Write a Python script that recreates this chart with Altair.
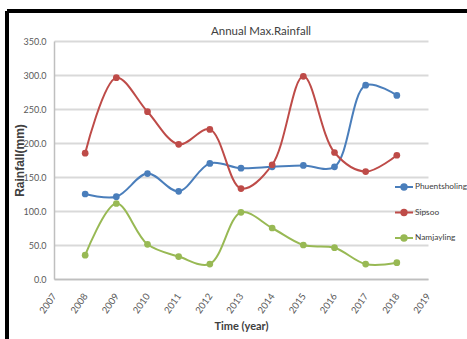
import altair as alt
import pandas as pd

# Annual maximum rainfall (mm) at three stations
years = list(range(2008, 2019))
phuentsholing = [125, 121, 155, 129, 170, 163, 165, 167, 165, 285, 270]
sipsoo = [185, 296, 246, 198, 220, 133, 168, 298, 186, 158, 182]
namjayling = [35, 111, 51, 33, 22, 98, 75, 50, 46, 22, 24]

series_names = ["Phuentsholing", "Sipsoo", "Namjayling"]
series_colors = ["#4A7EBB", "#BE4B48", "#98B954"]
year_ticks = list(range(2007, 2020))
rain_ticks = [0, 50, 100, 150, 200, 250, 300, 350]
chart_title = "Annual Max.Rainfall"

rows = []
for name, vals in zip(series_names, [phuentsholing, sipsoo, namjayling]):
    for yr, v in zip(years, vals):
        rows.append({"year": yr, "series": name, "rain": v})
df = pd.DataFrame(rows)

FONT = "Lato, sans-serif"
BOLD = "Liberation Sans, Arial, sans-serif"

# legend glyph: short line with a filled dot in the middle
legend_path = (
    "M-1,0H1"
    "M-0.3,0a0.3,0.3 0 1,0 0.6,0a0.3,0.3 0 1,0 -0.6,0"
    "M-0.17,0a0.17,0.17 0 1,0 0.34,0a0.17,0.17 0 1,0 -0.34,0"
    "M-0.06,0a0.06,0.06 0 1,0 0.12,0a0.06,0.06 0 1,0 -0.12,0"
)

x_enc = alt.X(
    "year:Q",
    scale=alt.Scale(domain=[2007, 2019], nice=False, zero=False),
    axis=alt.Axis(
        values=year_ticks, format="d", title="Time (year)", labelAngle=-55,
        labelAlign="right", labelBaseline="middle", labelPadding=15,
        labelOverlap=False, labelBound=False, labelFlush=False,
        grid=False, ticks=False, domainColor="#BFBFBF", domainWidth=1.5,
        labelFont=FONT, labelFontSize=9.5, labelColor="#595959",
        titleFont=FONT, titleFontSize=11, titleFontWeight="bold",
        titleColor="#404040", titleY=47, titleBaseline="middle",
    ),
)
y_enc = alt.Y(
    "rain:Q",
    scale=alt.Scale(domain=[0, 350], nice=False),
    axis=alt.Axis(
        values=rain_ticks, format=".1f", title="Rainfall(mm)",
        labelOverlap=False, labelBound=False, labelFlush=False,
        grid=True, gridColor="#D9D9D9", gridWidth=2, ticks=False,
        domainColor="#BFBFBF", domainWidth=1.5, labelPadding=8,
        labelFont=FONT, labelFontSize=9, labelColor="#595959",
        titleFont=BOLD, titleFontSize=12, titleFontWeight="bold",
        titleColor="#404040", titleX=-35, titleY=119,
        titleBaseline="middle", titleAlign="center",
    ),
)
color_enc = alt.Color(
    "series:N",
    scale=alt.Scale(domain=series_names, range=series_colors),
    sort=series_names,
    legend=alt.Legend(
        orient="none", legendX=340, legendY=136, title=None,
        symbolType=legend_path, symbolSize=324, symbolStrokeWidth=2,
        labelFont=FONT, labelFontSize=8.3, labelColor="#404040",
        labelOffset=1, rowPadding=8.5,
    ),
)

base = alt.Chart(df).encode(x=x_enc, y=y_enc, color=color_enc)
lines = base.mark_line(interpolate="catmull-rom", strokeWidth=2)
points = base.mark_point(filled=True, size=45, opacity=1)

title_mark = alt.Chart(pd.DataFrame({"t": [chart_title]})).mark_text(
    font=FONT, fontSize=11.5, color="#404040", align="center", baseline="alphabetic"
).encode(text="t:N", x=alt.value(207), y=alt.value(-6))

# chart-area frame (top and left edges)
frame_top = alt.Chart(df).mark_rule(color="black", strokeWidth=2.5).encode(
    x=alt.value(-47), x2=alt.value(413), y=alt.value(-30)
)
frame_left = alt.Chart(df).mark_rule(color="black", strokeWidth=2.5).encode(
    x=alt.value(-47), y=alt.value(-30), y2=alt.value(298)
)

chart = (
    alt.layer(lines, points, title_mark, frame_top, frame_left)
    .properties(
        width=374, height=238,
        autosize=alt.AutoSizeParams(type="none"),
        padding={"left": 54, "top": 41, "right": 39, "bottom": 60},
        background="white",
    )
    .configure_view(stroke=None)
)

chart.save("out.html", embed_options={"renderer": "svg", "actions": False})
